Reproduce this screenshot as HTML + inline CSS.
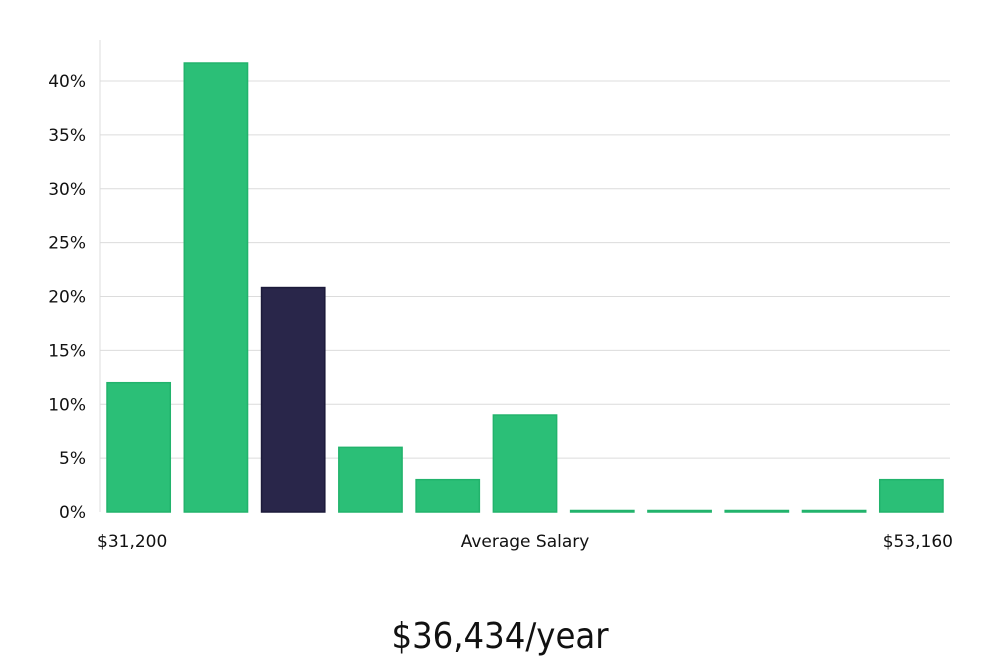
<!DOCTYPE html>
<html><head><meta charset="utf-8"><style>
body{margin:0;background:#fff;width:1000px;height:660px;overflow:hidden;font-family:"DejaVu Sans","Liberation Sans",sans-serif}
</style></head><body>
<svg id="chart" width="1000" height="660" xmlns="http://www.w3.org/2000/svg"></svg>
<script>
const categories=["b1","b2","b3","b4","b5","b6","b7","b8","b9","b10","b11"];
const values=[12,41.67,20.83,6,3,9,0,0,0,0,3];
const highlight=[false,false,true,false,false,false,false,false,false,false,false];
const yTicks=[0,5,10,15,20,25,30,35,40];
const yTickLabels=["0%","5%","10%","15%","20%","25%","30%","35%","40%"];
const NS="http://www.w3.org/2000/svg";
const svg=document.getElementById('chart');
const L=100,R=950,Y0=512,PX=10.775;
const y=v=>Y0-v*PX;
const band=(R-L)/categories.length;
const x=i=>L+i*band;
function mk(t,a){const e=document.createElementNS(NS,t);for(const k in a)e.setAttribute(k,a[k]);svg.appendChild(e);return e;}
yTicks.forEach((t,i)=>{
  if(t>0){const g=mk('line',{x1:L,x2:R,y1:y(t),y2:y(t),stroke:'#dcdcdc','stroke-width':1});
  
  }
  const tx=mk('text',{x:86,y:y(t)+6,'text-anchor':'end','font-size':17,fill:'#111'});
  tx.textContent=yTickLabels[i];
  
  
});
const ax=mk('line',{x1:L,x2:L,y1:40,y2:Y0,stroke:'#dcdcdc','stroke-width':1});


values.forEach((v,i)=>{
  const h=Math.max(v*PX,1.5);
  const b=mk('rect',{x:x(i)+7,y:Y0-h,width:band-14,height:h,fill:highlight[i]?'#29264a':'#2bbf77',stroke:highlight[i]?'#1c1a3a':'#22b36c','stroke-width':1.5});
  
  
});
function txt(s,xx,yy,anchor,size,name){const t=mk('text',{x:xx,y:yy,'text-anchor':anchor,'font-size':size,fill:'#111'});t.textContent=s;

return t;}
txt("$31,200",97,547,'start',17,'x-min-label');
txt("Average Salary",525,547,'middle',17,'x-axis-title');
txt("$53,160",953,547,'end',17,'x-max-label');
const m=txt("$36,434/year",500,648,'middle',36,'average-salary-value');
m.setAttribute('font-family','"Liberation Sans Narrow","DejaVu Sans Condensed",sans-serif');
</script>
</body></html>
